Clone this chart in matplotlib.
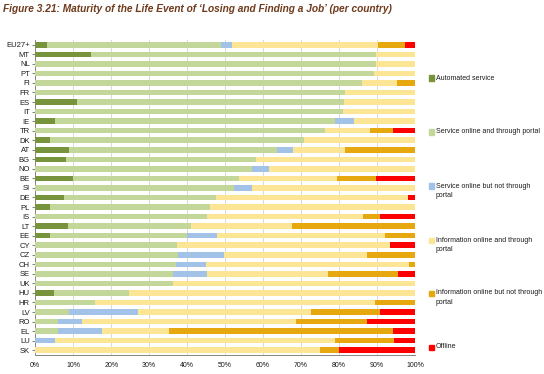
import matplotlib
matplotlib.use("Agg")
import matplotlib.pyplot as plt
import numpy as np
from matplotlib.patches import Rectangle

countries = ["EU27+", "MT", "NL", "PT", "FI", "FR", "ES", "IT", "IE", "TR", "DK",
             "AT", "BG", "NO", "BE", "SI", "DE", "PL", "IS", "LT", "EE", "CY",
             "CZ", "CH", "SE", "UK", "HU", "HR", "LV", "RO", "EL", "LU", "SK"]

automated = [3.2, 14.8, 0, 0, 0, 0, 11.0, 0, 5.1, 0, 4.0,
             8.9, 8.1, 0, 10.0, 0, 7.5, 3.8, 0, 8.6, 3.9, 0,
             0, 0, 0, 0, 4.9, 0, 0, 0, 0, 0, 0]
serv_portal = [45.7, 74.9, 89.7, 89.2, 86.0, 81.6, 70.2, 81.0, 73.7, 76.3, 66.7,
               54.7, 50.0, 57.0, 43.6, 52.2, 40.1, 42.2, 45.2, 32.4, 36.0, 37.3,
               37.5, 37.0, 36.3, 36.3, 19.9, 15.7, 9.0, 6.1, 5.9, 0, 0]
serv_noportal = [2.8, 0, 0, 0, 0, 0, 0, 0, 5.1, 0, 0,
                 4.4, 0, 4.6, 0, 4.8, 0, 0, 0, 0, 7.9, 0,
                 12.2, 8.0, 8.8, 0, 0, 0, 18.0, 6.2, 11.6, 5.1, 0]
info_portal = [38.5, 10.3, 10.3, 10.8, 9.3, 18.4, 18.8, 19.0, 16.1, 11.8, 29.3,
               13.6, 41.9, 38.4, 25.8, 43.0, 50.6, 54.0, 41.0, 26.5, 44.3, 56.2,
               37.6, 53.4, 32.0, 63.7, 75.2, 73.7, 45.7, 56.3, 17.6, 73.7, 75.0]
info_noportal = [7.2, 0, 0, 0, 4.7, 0, 0, 0, 0, 6.0, 0,
                 18.4, 0, 0, 10.3, 0, 0, 0, 4.6, 32.5, 7.9, 0,
                 12.7, 1.6, 18.3, 0, 0, 10.6, 18.1, 18.8, 59.0, 15.8, 4.9]
offline = [2.6, 0, 0, 0, 0, 0, 0, 0, 0, 5.9, 0,
           0, 0, 0, 10.3, 0, 1.8, 0, 9.2, 0, 0, 6.5,
           0, 0, 4.6, 0, 0, 0, 9.2, 12.6, 5.9, 5.4, 20.1]

series_names = ["Automated service", "Service online and through portal",
                "Service online but not through\nportal", "Information online and through\nportal",
                "Information online but not through\nportal", "Offline"]
colors = ["#77933C", "#C4D79B", "#A3C2E8", "#FCE594", "#E6A80E", "#FF0000"]
xticks = [0, 10, 20, 30, 40, 50, 60, 70, 80, 90, 100]
xticklabels = [f"{t}%" for t in xticks]

data = [automated, serv_portal, serv_noportal, info_portal, info_noportal, offline]

plt.rcParams['font.family'] = ['Liberation Sans', 'DejaVu Sans']
fig = plt.figure(figsize=(5.44, 3.74), dpi=100)
ax = fig.add_axes([35.3/544, 1 - 355/374, (415 - 35.3)/544, (355 - 40)/374])

y = np.arange(len(countries))
left = np.zeros(len(countries))
for vals, c in zip(data, colors):
    v = np.array(vals)
    ax.barh(y, v, left=left, color=c, height=0.58, zorder=3)
    left += v

ax.set_xlim(0, 100)
ax.set_ylim(len(countries) - 0.5, -0.5)
ax.set_yticks(y)
ax.set_yticklabels(countries, fontsize=5.5, color="#1a1a1a")
ax.set_xticks(xticks)
ax.set_xticklabels(xticklabels, fontsize=5, color="#1a1a1a")
ax.grid(axis="x", color="#d9d9d9", linewidth=0.7, zorder=0)
for s in ["top", "right"]:
    ax.spines[s].set_visible(False)
for s in ["left", "bottom"]:
    ax.spines[s].set_color("#868686")
    ax.spines[s].set_linewidth(0.7)
ax.tick_params(axis="y", length=2, color="#868686", pad=2)
ax.tick_params(axis="x", length=0, pad=5)

# legend
leg_y = [78, 132, 186, 240, 293, 347]
for name, c, yy in zip(series_names, colors, leg_y):
    fig.patches.append(Rectangle((429/544, 1 - (yy + 2.5)/374), 5/544, 5/374,
                                 transform=fig.transFigure, color=c))
    fig.text(436/544, 1 - (yy - 3.5)/374, name, fontsize=5, va="top", ha="left",
             color="#1a1a1a", linespacing=1.5)

fig.text(3/544, 1 - 9/374, "Figure 3.21: Maturity of the Life Event of \u2018Losing and Finding a Job\u2019 (per country)",
         fontsize=7.3, fontweight="bold", style="italic", color="#6F3A1C", va="center", ha="left")

fig.savefig("out.png", dpi=100)
